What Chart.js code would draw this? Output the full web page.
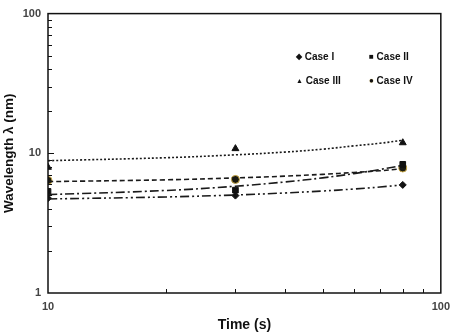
<!DOCTYPE html>
<html>
<head>
<meta charset="utf-8">
<script src="https://cdn.jsdelivr.net/npm/chart.js@4/dist/chart.umd.min.js"></script>
<style>
  html, body { margin: 0; padding: 0; background: #fff; }
  #wrap { position: relative; width: 457px; height: 334px; }
  .legend { position: absolute; left: 0; top: 0; font: bold 10px "Liberation Sans", Arial, sans-serif; color: #111; }
  .legend span { position: absolute; white-space: nowrap; }
</style>
</head>
<body>
<div id="wrap">
  <canvas id="chart"></canvas>
  <div class="legend" id="legend"></div>
</div>
<script>
// Measured points
var times = [10, 30, 80];
var caseI = [4.77, 4.98, 5.94];
var caseII = [5.34, 5.45, 8.34];
var caseIII = [7.94, 10.8, 11.9];
var caseIV = [6.4, 6.5, 7.85];

// Trend curves
var fitTimes = [10, 20, 30, 40, 50, 60, 70, 80];
var fitI = [4.71, 4.87, 5.03, 5.2, 5.37, 5.55, 5.74, 5.94];
var fitII = [5.06, 5.42, 5.81, 6.23, 6.67, 7.15, 7.66, 8.2];
var fitIII = [8.85, 9.3, 9.75, 10.2, 10.7, 11.3, 11.8, 12.4];
var fitIV = [6.27, 6.46, 6.66, 6.86, 7.07, 7.29, 7.5, 7.75];

var xLabels = [10, 100];
var yLabels = [1, 10, 100];

var FONT = '"Liberation Sans", Arial, sans-serif';

function pts(xs, ys) {
    return xs.map(function(x, i) { return {x: x, y: ys[i]}; });
}

function fitSet(ys, dash) {
    return {
        data: pts(fitTimes, ys),
        showLine: true,
        borderColor: '#1a1a1a',
        borderWidth: 1.6,
        borderDash: dash,
        pointRadius: 0,
        tension: 0.4,
        fill: false
    };
}

function markSet(label, ys, style, radius, bg, border) {
    return {
        label: label,
        data: pts(times, ys),
        showLine: false,
        pointStyle: style,
        pointRadius: radius,
        backgroundColor: bg,
        borderColor: border,
        borderWidth: 1
    };
}

// Box round the plot and small inward ticks
var framePlugin = {
    id: 'frame',
    afterDraw: function(chart) {
        var ctx = chart.ctx;
        var a = chart.chartArea;
        var xs = chart.scales.x;
        var ys = chart.scales.y;
        ctx.save();
        ctx.strokeStyle = '#111';
        ctx.lineWidth = 1.5;
        ctx.strokeRect(a.left, a.top, a.right - a.left, a.bottom - a.top);
        ctx.lineWidth = 1;
        ctx.beginPath();
        [1, 10].forEach(function(d) {
            for (var k = 2; k <= 9; k++) {
                var py = Math.round(ys.getPixelForValue(k * d)) + 0.5;
                ctx.moveTo(a.left, py);
                ctx.lineTo(a.left + 4, py);
            }
        });
        var py10 = Math.round(ys.getPixelForValue(10)) + 0.5;
        ctx.moveTo(a.left, py10);
        ctx.lineTo(a.left + 6, py10);
        for (var k = 2; k <= 9; k++) {
            var px = Math.round(xs.getPixelForValue(k * 10)) + 0.5;
            ctx.moveTo(px, a.bottom);
            ctx.lineTo(px, a.bottom - 4);
        }
        ctx.stroke();
        ctx.restore();
    }
};

var chart = new Chart(document.getElementById('chart'), {
    type: 'scatter',
    data: {
        datasets: [
            fitSet(fitIII, [2, 2]),
            fitSet(fitIV, [5, 3]),
            fitSet(fitII, [9, 3, 2, 3]),
            fitSet(fitI, [9, 3, 2, 3, 2, 3]),
            markSet('Case I', caseI, 'rectRot', 3.5, '#111', '#111'),
            markSet('Case II', caseII, 'rect', 4, '#111', '#111'),
            markSet('Case III', caseIII, 'triangle', 4, '#111', '#111'),
            markSet('Case IV', caseIV, 'circle', 4, '#1a1a10', '#c9a845')
        ]
    },
    options: {
        responsive: true,
        maintainAspectRatio: false,
        animation: false,
        layout: { padding: { top: 7, right: 12, left: 0, bottom: 0 } },
        plugins: { legend: { display: false }, tooltip: { enabled: false } },
        scales: {
            x: {
                type: 'logarithmic',
                min: 10,
                max: 100,
                grid: { display: false, drawTicks: false },
                border: { display: false },
                ticks: {
                    autoSkip: false,
                    maxRotation: 0,
                    padding: 7,
                    color: '#444',
                    font: { family: FONT, size: 11, weight: 'bold' },
                    callback: function(v) { return xLabels.indexOf(v) >= 0 ? String(v) : ''; }
                },
                title: {
                    display: true,
                    text: 'Time (s)',
                    color: '#111',
                    padding: { top: 2, bottom: 0 },
                    font: { family: FONT, size: 14, weight: 'bold' }
                },
                afterFit: function(s) { s.height = 41; }
            },
            y: {
                type: 'logarithmic',
                min: 1,
                max: 100,
                grid: { display: false, drawTicks: false },
                border: { display: false },
                ticks: {
                    autoSkip: false,
                    padding: 7,
                    color: '#444',
                    font: { family: FONT, size: 11, weight: 'bold' },
                    callback: function(v) { return yLabels.indexOf(v) >= 0 ? String(v) : ''; }
                },
                title: {
                    display: true,
                    text: 'Wavelength \u03bb (nm)',
                    color: '#111',
                    padding: { top: 1, bottom: 4 },
                    font: { family: FONT, size: 13.5, weight: 'bold' }
                },
                afterFit: function(s) { s.width = 48; }
            }
        }
    },
    plugins: [framePlugin]
});

// Legend inside the plot, two columns
var legendItems = [
    { text: 'Case I', x: 296, y: 51, sym: '\u25c6' },
    { text: 'Case II', x: 369, y: 51, sym: '\u25a0' },
    { text: 'Case III', x: 296, y: 75, sym: '\u25b2' },
    { text: 'Case IV', x: 369, y: 75, sym: '\u25cf' }
];
var lg = document.getElementById('legend');
legendItems.forEach(function(it, i) {
    var s = document.createElement('span');
    s.style.left = it.x + 'px';
    s.style.top = it.y + 'px';
    s.innerHTML = '<span style="position:relative;font-size:' + (i === 2 ? 7 : 8) + 'px;vertical-align:1px;' +
        (i === 3 ? 'text-shadow:0 0 1px #c9a845;' : '') + '">' + it.sym + '</span> ' + it.text;
    lg.appendChild(s);
});
</script>
</body>
</html>
